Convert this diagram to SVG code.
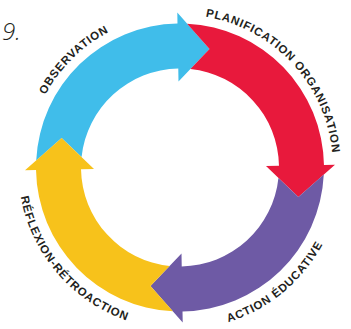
<svg xmlns="http://www.w3.org/2000/svg" width="351" height="329" viewBox="0 0 351 329">
<style>
.lbl{font-family:"Liberation Sans",Arial,sans-serif;font-weight:bold;font-size:11.5px;fill:#231f20;letter-spacing:0.8px}
.num{font-family:"Open Sans","DejaVu Sans",sans-serif;font-style:italic;font-weight:300;font-size:24px;fill:#231f20}
</style>
<defs>
<path id="seg" d="M-143.8,-7.1 A144,144 0 0 1 -2.513,-143.978 L-2.705,-154.98 L29.51,-118.38 L-1.501,-85.99 L-1.728,-98.985 A99,99 0 0 0 -98.45,-10.4 L-118.38,-29.51 Z"/>
<path id="cw" d="M0,-153 A153,153 0 1 1 0,153 A153,153 0 1 1 0,-153"/>
<path id="ccw" d="M0,-162 A162,162 0 1 0 0,162 A162,162 0 1 0 0,-162"/>
</defs>
<text class="num" x="2" y="40">9.</text>
<g id="observation" transform="translate(180,167.5)">
<use href="#seg" fill="#40bdea"/>
<text class="lbl"><textPath href="#cw" startOffset="87.6%" text-anchor="middle">OBSERVATION</textPath></text>
</g>
<g id="planification" transform="translate(180,167.5)">
<use href="#seg" transform="rotate(90)" fill="#e8193c"/>
<text class="lbl"><textPath href="#cw" startOffset="13.1%" text-anchor="middle">PLANIFICATION ORGANISATION</textPath></text>
</g>
<g id="action" transform="translate(180,167.5)">
<use href="#seg" transform="rotate(180)" fill="#6e5aa5"/>
<text class="lbl"><textPath href="#ccw" startOffset="61%" text-anchor="middle">ACTION ÉDUCATIVE</textPath></text>
</g>
<g id="reflexion" transform="translate(180,167.5)">
<use href="#seg" transform="rotate(270)" fill="#f7c21b"/>
<text class="lbl"><textPath href="#ccw" startOffset="36.3%" text-anchor="middle">RÉFLEXION-RÉTROACTION</textPath></text>
</g>
<g id="connectors"/>
</svg>
